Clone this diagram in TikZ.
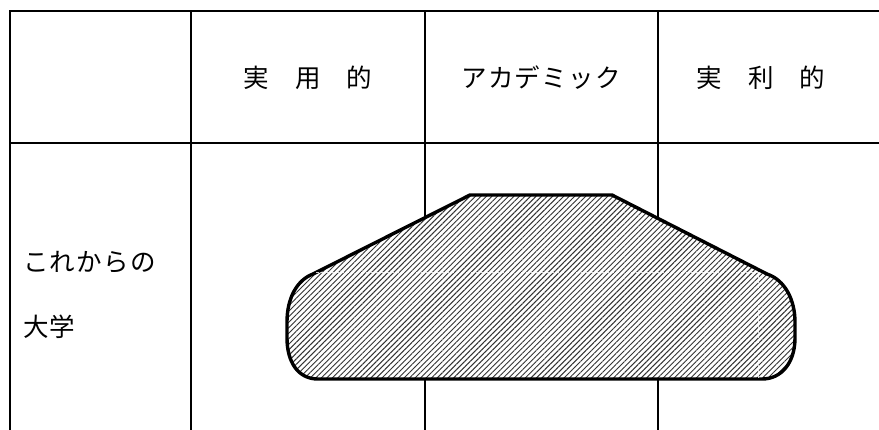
\documentclass[tikz,border=0pt]{standalone}
\usepackage{fontspec}
\newfontfamily\jp{Noto Sans CJK JP}[LetterSpace=5]
\usetikzlibrary{patterns.meta}
\tikzset{
  grid/.style={line width=2.5pt, line cap=rect},
  lbl/.style={font=\jp\fontsize{25.5}{30}\selectfont, inner sep=0pt},
  blobfill/.style={fill=white},
  blob/.style={line width=3.4pt, line join=round,
    pattern={Lines[angle=45,distance=3.9pt,line width=0.95pt]}, pattern color=black!80},
  seam/.style={white, line width=0.7pt, dash pattern=on 3pt off 2pt, opacity=0.8}
}
\begin{document}
\begin{tikzpicture}[x=1pt,y=-1pt]
\useasboundingbox (0,0) rectangle (879,429);
% table
\draw[grid] (10,11) -- (879,11);
\draw[grid] (10,143) -- (879,143);
\draw[grid] (10,11) -- (10,429);
\draw[grid] (191,11) -- (191,429);
\draw[grid] (425,11) -- (425,429);
\draw[grid] (658,11) -- (658,429);
% headers
\node[lbl] (h1) at (308,78) {実\hspace{26pt}用\hspace{26pt}的};
\node[lbl] (h2) at (541,78) {アカデミック};
\node[lbl] (h3) at (761,78) {実\hspace{26pt}利\hspace{26pt}的};
\node[lbl, anchor=west] (r1) at (23,262) {これからの};
\node[lbl, anchor=west] (r2) at (23,327) {大学};
% shape
\def\blobpath{(313,274) -- (470,195) -- (612,195) -- (767,274)
  .. controls (785,280) and (795,300) .. (795,322) -- (795,338)
  .. controls (795,362) and (782,379) .. (762,379) -- (318,379)
  .. controls (298,379) and (287,362) .. (287,338) -- (287,322)
  .. controls (287,298) and (297,280) .. (313,274) -- cycle}
\fill[blobfill] \blobpath;
\draw[blob] \blobpath;
\draw[seam] (316,272) -- (758,272) -- (758,378);
\end{tikzpicture}
\end{document}
